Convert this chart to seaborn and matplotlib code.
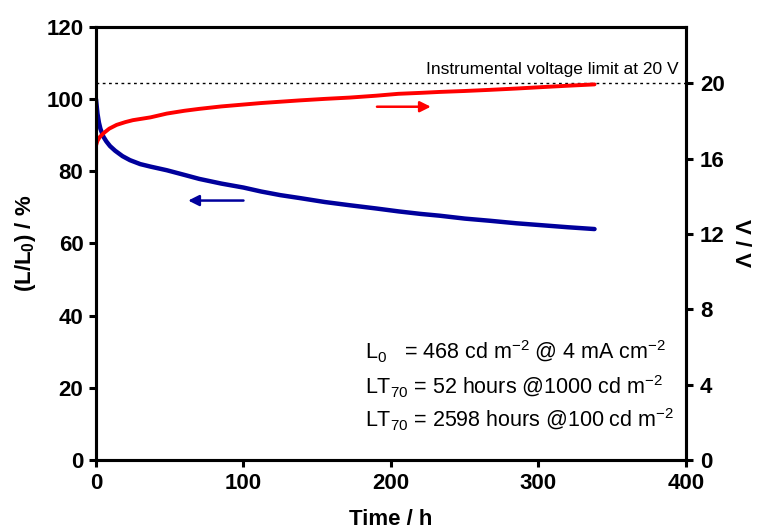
import matplotlib
matplotlib.use("Agg")
import matplotlib.pyplot as plt
import pandas as pd
import seaborn as sns
from matplotlib import font_manager as fm

# Luminance decay, (L/L0) in %
time_lum = [0, 1, 2, 3, 5, 7, 9.5, 13, 18, 23, 30, 37, 48, 60, 70, 85, 100,
            112, 125, 138, 155, 172, 190, 205, 220, 233, 250, 267, 285, 301,
            320, 338]
lum_pct = [100, 96.0, 93.5, 91.8, 89.6, 88.3, 87.0, 85.7, 84.2, 83.1, 82.0,
           81.3, 80.3, 79.0, 77.9, 76.6, 75.5, 74.4, 73.4, 72.6, 71.5, 70.6,
           69.7, 68.9, 68.2, 67.7, 66.9, 66.3, 65.6, 65.1, 64.5, 64.0]

# Driving voltage in V
time_volt = [0, 1, 2.5, 5, 9, 14, 20, 25, 37, 48, 60, 70, 85, 100, 112, 125,
             138, 155, 172, 190, 205, 220, 233, 250, 267, 285, 301, 320, 338]
volt = [16.7, 16.95, 17.15, 17.35, 17.6, 17.8, 17.95, 18.05, 18.2, 18.4,
        18.55, 18.65, 18.78, 18.88, 18.96, 19.03, 19.1, 19.18, 19.25, 19.35,
        19.45, 19.5, 19.55, 19.6, 19.66, 19.73, 19.8, 19.88, 19.95]

x_ticks = [0, 100, 200, 300, 400]
left_ticks = [0, 20, 40, 60, 80, 100, 120]
right_ticks = [0, 4, 8, 12, 16, 20]
voltage_limit = 20

NAVY = "#00009C"
RED = "#FF0000"

sns.set_theme(style="ticks")
installed = {f.name for f in fm.fontManager.ttflist}
bold_family = ("Liberation Sans Narrow" if "Liberation Sans Narrow" in installed
               else "Liberation Sans")
plt.rcParams["font.family"] = ["Liberation Sans", "DejaVu Sans"]
plt.rcParams.update({
    "text.color": "black",
    "axes.labelcolor": "black",
    "mathtext.fontset": "custom",
    "mathtext.rm": "Liberation Sans",
    "mathtext.it": "Liberation Sans:italic",
    "mathtext.bf": "Liberation Sans:bold",
})

fig = plt.figure(figsize=(7.6, 5.31), dpi=100)
ax = fig.add_axes([0.1263, 0.1337, 0.7763, 0.8155])
ax2 = ax.twinx()

lum_df = pd.DataFrame({"t": time_lum, "L": lum_pct})
volt_df = pd.DataFrame({"t": time_volt, "V": volt})

sns.lineplot(data=lum_df, x="t", y="L", ax=ax, color=NAVY, lw=3.2)
sns.lineplot(data=volt_df, x="t", y="V", ax=ax2, color=RED, lw=2.8)

ax.set_xlim(0, 400)
ax.set_ylim(0, 120)
ax2.set_ylim(0, 23)
ax.set_xticks(x_ticks)
ax.set_yticks(left_ticks)
ax2.set_yticks(right_ticks)

# voltage ceiling of the source-measure unit
ax2.axhline(voltage_limit, color="black", lw=1.0, ls=(0, (2, 2.5)), zorder=1)
ax2.text(394.8, 20.5, "Instrumental voltage limit at 20 V", ha="right",
         va="baseline", fontsize=12.5, color="black")

# direction arrows pointing to each curve's axis
ax.annotate("", xy=(62.5, 71.9), xytext=(100, 71.9),
            arrowprops=dict(arrowstyle="-|>", color=NAVY, lw=1.8,
                            mutation_scale=16, shrinkA=0, shrinkB=0))
ax.annotate("", xy=(227, 97.9), xytext=(190.5, 97.9),
            arrowprops=dict(arrowstyle="-|>", color=RED, lw=1.8,
                            mutation_scale=16, shrinkA=0, shrinkB=0))

# lifetime summary
block_x = 182.4
ax.text(block_x, 28.0, r"L$_0$   = 468 cd m$^{-2}$ @ 4 mA cm$^{-2}$",
        fontsize=15.5, va="baseline")
ax.text(block_x, 18.3, r"LT$_{70}$ = 52 hours @1000 cd m$^{-2}$",
        fontsize=15.5, va="baseline")
ax.text(block_x, 8.9, r"LT$_{70}$ = 2598 hours @100 cd m$^{-2}$",
        fontsize=15.5, va="baseline")

label_kw = dict(fontsize=16, fontweight="bold", family=bold_family)
ax.set_xlabel("Time / h", labelpad=11, **label_kw)
ax.set_ylabel(r"(L/L$\mathbf{_0}$) / %", labelpad=6, **label_kw)
ax2.set_ylabel("V / V", rotation=270, labelpad=19, **label_kw)

for a in (ax, ax2):
    for s in a.spines.values():
        s.set_linewidth(2.2)
        s.set_color("black")
    a.tick_params(axis="both", direction="out", length=5, width=2.2,
                  labelsize=16, colors="black")
    for lab in a.get_xticklabels() + a.get_yticklabels():
        lab.set_fontweight("bold")
        lab.set_family(bold_family)
ax.tick_params(axis="x", pad=4)
ax.tick_params(axis="y", pad=4)
ax2.tick_params(axis="y", pad=5)
ax.grid(False)
ax2.grid(False)

fig.savefig("out.png", dpi=100)
